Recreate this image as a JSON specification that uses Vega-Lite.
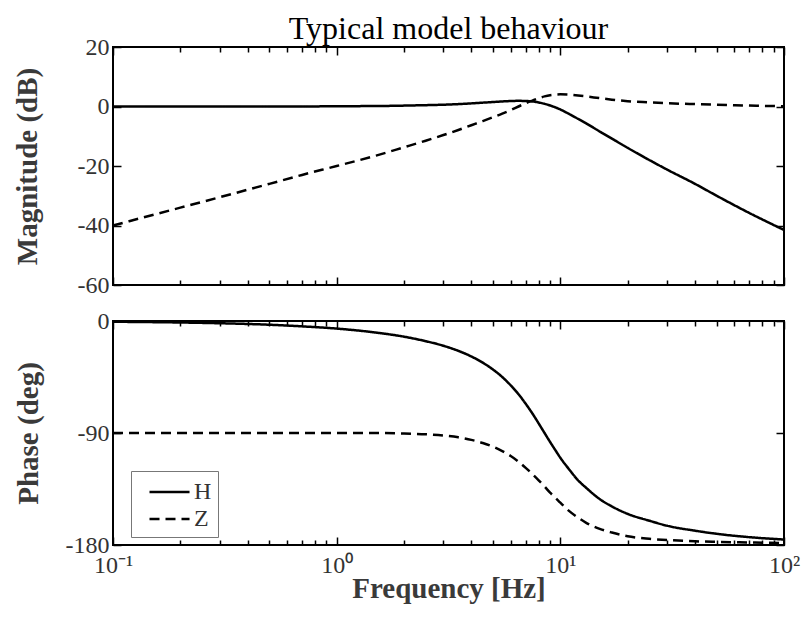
{
  "$schema": "https://vega.github.io/schema/vega-lite/v6.json",
  "background": "white",
  "padding": {"left": 12, "top": 12, "right": 0, "bottom": 0},
  "datasets": {
    "bode": [
      {"freq": 0.1, "series": "H", "mag": 0, "phase": -0.6},
      {"freq": 0.2, "series": "H", "mag": 0, "phase": -1.2},
      {"freq": 0.3, "series": "H", "mag": 0, "phase": -1.8},
      {"freq": 0.5, "series": "H", "mag": 0, "phase": -3.0},
      {"freq": 0.7, "series": "H", "mag": 0, "phase": -4.3},
      {"freq": 1, "series": "H", "mag": 0.1, "phase": -6.1},
      {"freq": 1.5, "series": "H", "mag": 0.15, "phase": -9.3},
      {"freq": 2, "series": "H", "mag": 0.3, "phase": -12.6},
      {"freq": 2.5, "series": "H", "mag": 0.45, "phase": -16.2},
      {"freq": 3, "series": "H", "mag": 0.6, "phase": -19.9},
      {"freq": 3.5, "series": "H", "mag": 0.8, "phase": -24},
      {"freq": 4, "series": "H", "mag": 1.05, "phase": -28.5},
      {"freq": 4.5, "series": "H", "mag": 1.3, "phase": -33.5},
      {"freq": 5, "series": "H", "mag": 1.5, "phase": -39},
      {"freq": 5.5, "series": "H", "mag": 1.7, "phase": -45},
      {"freq": 6, "series": "H", "mag": 1.84, "phase": -51.7},
      {"freq": 6.5, "series": "H", "mag": 1.9, "phase": -58.8},
      {"freq": 7, "series": "H", "mag": 1.85, "phase": -66.5},
      {"freq": 7.5, "series": "H", "mag": 1.7, "phase": -74.3},
      {"freq": 8, "series": "H", "mag": 1.36, "phase": -82.3},
      {"freq": 8.5, "series": "H", "mag": 0.9, "phase": -90},
      {"freq": 9, "series": "H", "mag": 0.35, "phase": -97.2},
      {"freq": 9.5, "series": "H", "mag": -0.3, "phase": -103.8},
      {"freq": 10, "series": "H", "mag": -1.0, "phase": -109.9},
      {"freq": 11, "series": "H", "mag": -2.6, "phase": -119.7},
      {"freq": 12, "series": "H", "mag": -4.15, "phase": -128},
      {"freq": 13, "series": "H", "mag": -5.6, "phase": -133.8},
      {"freq": 15, "series": "H", "mag": -8.4, "phase": -143.1},
      {"freq": 17, "series": "H", "mag": -10.8, "phase": -149},
      {"freq": 20, "series": "H", "mag": -13.9, "phase": -155},
      {"freq": 25, "series": "H", "mag": -18, "phase": -160.5},
      {"freq": 30, "series": "H", "mag": -21.2, "phase": -164.5},
      {"freq": 40, "series": "H", "mag": -26, "phase": -168.5},
      {"freq": 50, "series": "H", "mag": -30, "phase": -171},
      {"freq": 70, "series": "H", "mag": -35.8, "phase": -173.7},
      {"freq": 100, "series": "H", "mag": -41.5, "phase": -175.6},
      {"freq": 0.1, "series": "Z", "mag": -40, "phase": -90},
      {"freq": 0.2, "series": "Z", "mag": -34, "phase": -90},
      {"freq": 0.3, "series": "Z", "mag": -30.5, "phase": -90},
      {"freq": 0.5, "series": "Z", "mag": -26, "phase": -90},
      {"freq": 0.7, "series": "Z", "mag": -23, "phase": -90},
      {"freq": 1, "series": "Z", "mag": -20, "phase": -90},
      {"freq": 1.5, "series": "Z", "mag": -16.5, "phase": -90},
      {"freq": 2, "series": "Z", "mag": -13.7, "phase": -90.5},
      {"freq": 2.5, "series": "Z", "mag": -11.5, "phase": -91},
      {"freq": 3, "series": "Z", "mag": -9.6, "phase": -92},
      {"freq": 3.5, "series": "Z", "mag": -7.9, "phase": -93.5},
      {"freq": 4, "series": "Z", "mag": -6.3, "phase": -95.5},
      {"freq": 4.5, "series": "Z", "mag": -4.9, "phase": -98},
      {"freq": 5, "series": "Z", "mag": -3.6, "phase": -101},
      {"freq": 5.5, "series": "Z", "mag": -2.4, "phase": -104.5},
      {"freq": 6, "series": "Z", "mag": -1.2, "phase": -108.5},
      {"freq": 6.5, "series": "Z", "mag": 0, "phase": -113},
      {"freq": 7, "series": "Z", "mag": 1.1, "phase": -118},
      {"freq": 7.5, "series": "Z", "mag": 2.0, "phase": -123},
      {"freq": 8, "series": "Z", "mag": 2.8, "phase": -128},
      {"freq": 8.5, "series": "Z", "mag": 3.4, "phase": -133},
      {"freq": 9, "series": "Z", "mag": 3.8, "phase": -138},
      {"freq": 9.5, "series": "Z", "mag": 4.0, "phase": -142},
      {"freq": 10, "series": "Z", "mag": 4.1, "phase": -146},
      {"freq": 11, "series": "Z", "mag": 4.0, "phase": -153},
      {"freq": 12, "series": "Z", "mag": 3.7, "phase": -158},
      {"freq": 13, "series": "Z", "mag": 3.4, "phase": -162},
      {"freq": 15, "series": "Z", "mag": 2.8, "phase": -167},
      {"freq": 17, "series": "Z", "mag": 2.3, "phase": -170},
      {"freq": 20, "series": "Z", "mag": 1.8, "phase": -173},
      {"freq": 25, "series": "Z", "mag": 1.4, "phase": -175},
      {"freq": 30, "series": "Z", "mag": 1.1, "phase": -176},
      {"freq": 40, "series": "Z", "mag": 0.8, "phase": -177},
      {"freq": 50, "series": "Z", "mag": 0.6, "phase": -177.5},
      {"freq": 70, "series": "Z", "mag": 0.3, "phase": -178},
      {"freq": 100, "series": "Z", "mag": 0.1, "phase": -178.5}
    ]
  },
  "config": {
    "font": "Liberation Serif",
    "view": {"stroke": "black", "strokeWidth": 2},
    "axis": {
      "domain": false,
      "grid": false,
      "tickColor": "black",
      "tickWidth": 1.5,
      "labelFont": "Liberation Serif",
      "labelFontSize": 24,
      "labelColor": "#333333",
      "labelOverlap": false,
      "labelFlush": false,
      "titleFont": "Liberation Serif",
      "titleFontSize": 29,
      "titleFontWeight": "bold",
      "titleColor": "#3a3a3a"
    },
    "legend": {
      "labelFont": "Liberation Serif",
      "labelFontSize": 24,
      "labelColor": "#333333"
    }
  },
  "spacing": 10,
  "resolve": {"scale": {"strokeDash": "independent"}, "legend": {"strokeDash": "independent"}},
  "vconcat": [
    {
      "title": {"text": "Typical model behaviour", "font": "Liberation Serif", "fontSize": 32, "fontWeight": "normal", "color": "black", "anchor": "middle", "offset": -11},
      "width": 671,
      "height": 238,
      "data": {"name": "bode"},
      "resolve": {"axis": {"x": "independent", "y": "independent"}},
      "layer": [
        {
          "mark": {"type": "line", "interpolate": "monotone", "strokeWidth": 2.5, "color": "black"},
          "encoding": {
            "x": {"field": "freq", "type": "quantitative", "scale": {"type": "log", "domain": [0.1, 100], "nice": false},
              "axis": {"orient": "bottom", "title": null, "labels": false, "values": [0.1,0.2,0.3,0.4,0.5,0.6,0.7,0.8,0.9,1,2,3,4,5,6,7,8,9,10,20,30,40,50,60,70,80,90,100],
                "tickSize": {"condition": {"test": "datum.value == 0.1 || datum.value == 1 || datum.value == 10 || datum.value == 100", "value": -8}, "value": -5}}},
            "y": {"field": "mag", "type": "quantitative", "scale": {"domain": [-60, 20], "nice": false, "zero": false},
              "axis": {"title": "Magnitude (dB)", "values": [-60, -40, -20, 0, 20], "tickSize": -8, "labelPadding": 12, "labelExpr": "replace(datum.label, '−', '-')", "titlePadding": 35}},
            "strokeDash": {"field": "series", "type": "nominal", "scale": {"domain": ["H", "Z"], "range": [[1, 0], [10, 6]]}, "legend": null}
          }
        },
        {
          "mark": {"type": "point", "opacity": 0},
          "encoding": {
            "x": {"field": "freq", "type": "quantitative", "scale": {"type": "log", "domain": [0.1, 100], "nice": false},
              "axis": {"orient": "top", "title": null, "labels": false, "values": [0.1,0.2,0.3,0.4,0.5,0.6,0.7,0.8,0.9,1,2,3,4,5,6,7,8,9,10,20,30,40,50,60,70,80,90,100],
                "tickSize": {"condition": {"test": "datum.value == 0.1 || datum.value == 1 || datum.value == 10 || datum.value == 100", "value": -8}, "value": -5}}},
            "y": {"field": "mag", "type": "quantitative", "scale": {"domain": [-60, 20], "nice": false, "zero": false},
              "axis": {"orient": "right", "title": null, "labels": false, "values": [-60, -40, -20, 0, 20], "tickSize": -8}}
          }
        }
      ]
    },
    {
      "width": 671,
      "height": 224,
      "data": {"name": "bode"},
      "resolve": {"axis": {"x": "independent", "y": "independent"}},
      "layer": [
        {
          "mark": {"type": "line", "interpolate": "monotone", "strokeWidth": 2.5, "color": "black"},
          "encoding": {
            "x": {"field": "freq", "type": "quantitative", "scale": {"type": "log", "domain": [0.1, 100], "nice": false},
              "axis": {"orient": "bottom", "title": "Frequency [Hz]", "values": [0.1,0.2,0.3,0.4,0.5,0.6,0.7,0.8,0.9,1,2,3,4,5,6,7,8,9,10,20,30,40,50,60,70,80,90,100],
                "labelExpr": "datum.value == 0.1 ? '10⁻¹' : datum.value == 1 ? '10⁰' : datum.value == 10 ? '10¹' : datum.value == 100 ? '10²' : ''",
                "labelPadding": 16, "titlePadding": -6,
                "tickSize": {"condition": {"test": "datum.value == 0.1 || datum.value == 1 || datum.value == 10 || datum.value == 100", "value": -8}, "value": -5}}},
            "y": {"field": "phase", "type": "quantitative", "scale": {"domain": [-180, 0], "nice": false, "zero": false},
              "axis": {"title": "Phase (deg)", "values": [-180, -90, 0], "tickSize": -8, "labelPadding": 12, "labelExpr": "replace(datum.label, '−', '-')", "titlePadding": 22}},
            "strokeDash": {"field": "series", "type": "nominal", "scale": {"domain": ["H", "Z"], "range": [[1, 0], [10, 6]]},
              "legend": {"title": null, "orient": "none", "legendX": 18, "legendY": 150, "symbolType": "M-0.185,0L2.78,0", "symbolSize": 729, "symbolStrokeWidth": 2.5, "symbolStrokeColor": "black",
                "strokeColor": "#777777", "fillColor": "white", "padding": 6, "rowPadding": 0, "labelOffset": 27}}
          }
        },
        {
          "mark": {"type": "point", "opacity": 0},
          "encoding": {
            "x": {"field": "freq", "type": "quantitative", "scale": {"type": "log", "domain": [0.1, 100], "nice": false},
              "axis": {"orient": "top", "title": null, "labels": false, "values": [0.1,0.2,0.3,0.4,0.5,0.6,0.7,0.8,0.9,1,2,3,4,5,6,7,8,9,10,20,30,40,50,60,70,80,90,100],
                "tickSize": {"condition": {"test": "datum.value == 0.1 || datum.value == 1 || datum.value == 10 || datum.value == 100", "value": -8}, "value": -5}}},
            "y": {"field": "phase", "type": "quantitative", "scale": {"domain": [-180, 0], "nice": false, "zero": false},
              "axis": {"orient": "right", "title": null, "labels": false, "values": [-180, -90, 0], "tickSize": -8}}
          }
        }
      ]
    }
  ]
}
